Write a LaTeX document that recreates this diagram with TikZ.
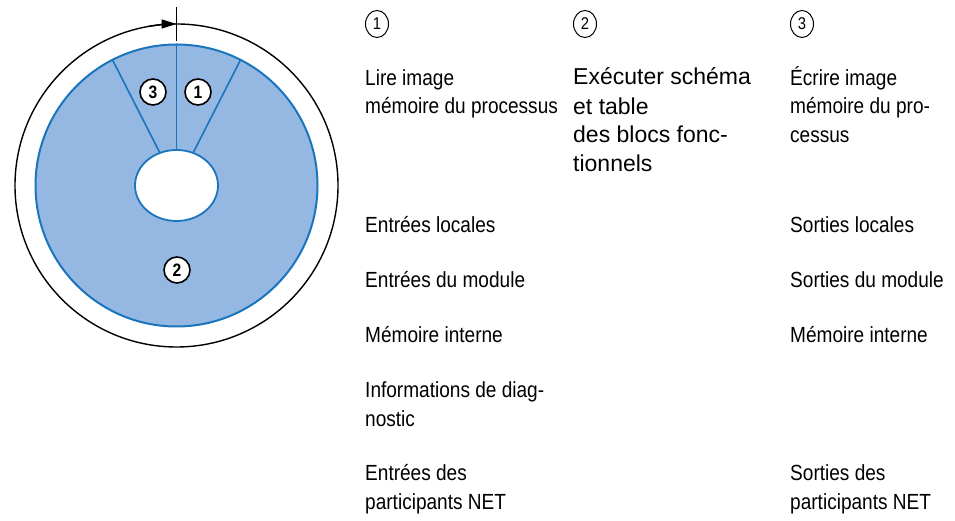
\documentclass[tikz,border=0pt]{standalone}
\usepackage{fontspec}
\setmainfont{Liberation Sans}
\newfontfamily\condfont[FakeStretch=0.87]{Liberation Sans}
\usetikzlibrary{arrows.meta,shapes.geometric}
\definecolor{diskfill}{HTML}{94B8E2}
\definecolor{diskline}{HTML}{1B75BC}
\begin{document}
\begin{tikzpicture}[x=1pt,y=1pt,
 lbl/.style={anchor=base west, inner sep=0pt, font=\condfont\fontsize{21.9}{26}\selectfont},
 lblb/.style={anchor=base west, inner sep=0pt, font=\fontsize{23}{28}\selectfont},
 num/.style={circle, draw=black, line width=1.6pt, fill=white, minimum size=26pt, inner sep=0pt, font=\condfont\bfseries\fontsize{18}{18}\selectfont},
 leg/.style={ellipse, draw=black, line width=1pt, minimum width=23pt, minimum height=27pt, inner sep=0pt, font=\condfont\fontsize{17}{17}\selectfont},
 spoke/.style={draw=diskline, line width=1.6pt}]
\useasboundingbox (0,0) rectangle (955,521);
\coordinate (C) at (176.5,335.5);
% outer ring with arrow
\draw[black, line width=1.4pt] (C) circle (161.5);
\draw[black, line width=1.4pt, -{Triangle[length=15pt,width=9pt]}] (C) ++(100:161.5pt) arc[start angle=100, end angle=90, radius=161.5pt];
\coordinate (T1) at (176.5,514);
\coordinate (T2) at (176.5,480);
\draw[black, line width=1.6pt] (T1) -- (T2);
% disk
\draw[fill=diskfill, draw=diskline, line width=2pt] (C) circle (141);
\draw[spoke] (C) -- ++(63:141pt);
\draw[spoke] (C) -- ++(90:141pt);
\draw[spoke] (C) -- ++(117:141pt);
\draw[fill=white, draw=diskline, line width=1.8pt] (C) ellipse [x radius=41.5, y radius=35.5];
\node[num] (n3) at (153,429) {3};
\node[num] (n1) at (198,429) {1};
\node[num] (n2) at (177,251) {2};
% legend
\node[leg] (l1) at (377,497) {1};
\node[leg] (l2) at (585,497) {2};
\node[leg] (l3) at (802,497) {3};
% column 1
\node[lbl] (a1) at (365,435.3) {Lire image};
\node[lbl] (a2) at (365,407) {mémoire du processus};
\node[lbl] (a3) at (365,288) {Entrées locales};
\node[lbl] (a4) at (365,233) {Entrées du module};
\node[lbl] (a5) at (365,178) {Mémoire interne};
\node[lbl] (a6) at (365,123) {Informations de diag-};
\node[lbl] (a7) at (365,94) {nostic};
\node[lbl] (a8) at (365,40) {Entrées des};
\node[lbl] (a9) at (365,11) {participants NET};
% column 2
\node[lblb] (b1) at (573,436) {Exécuter schéma};
\node[lblb] (b2) at (573,406) {et table};
\node[lblb] (b3) at (573,378) {des blocs fonc-};
\node[lblb] (b4) at (573,349) {tionnels};
% column 3
\node[lbl] (c1) at (790,435.3) {Écrire image};
\node[lbl] (c2) at (790,407) {mémoire du pro-};
\node[lbl] (c3) at (790,378) {cessus};
\node[lbl] (c4) at (790,288) {Sorties locales};
\node[lbl] (c5) at (790,233) {Sorties du module};
\node[lbl] (c6) at (790,178) {Mémoire interne};
\node[lbl] (c7) at (790,40) {Sorties des};
\node[lbl] (c8) at (790,11) {participants NET};
\end{tikzpicture}
\end{document}
